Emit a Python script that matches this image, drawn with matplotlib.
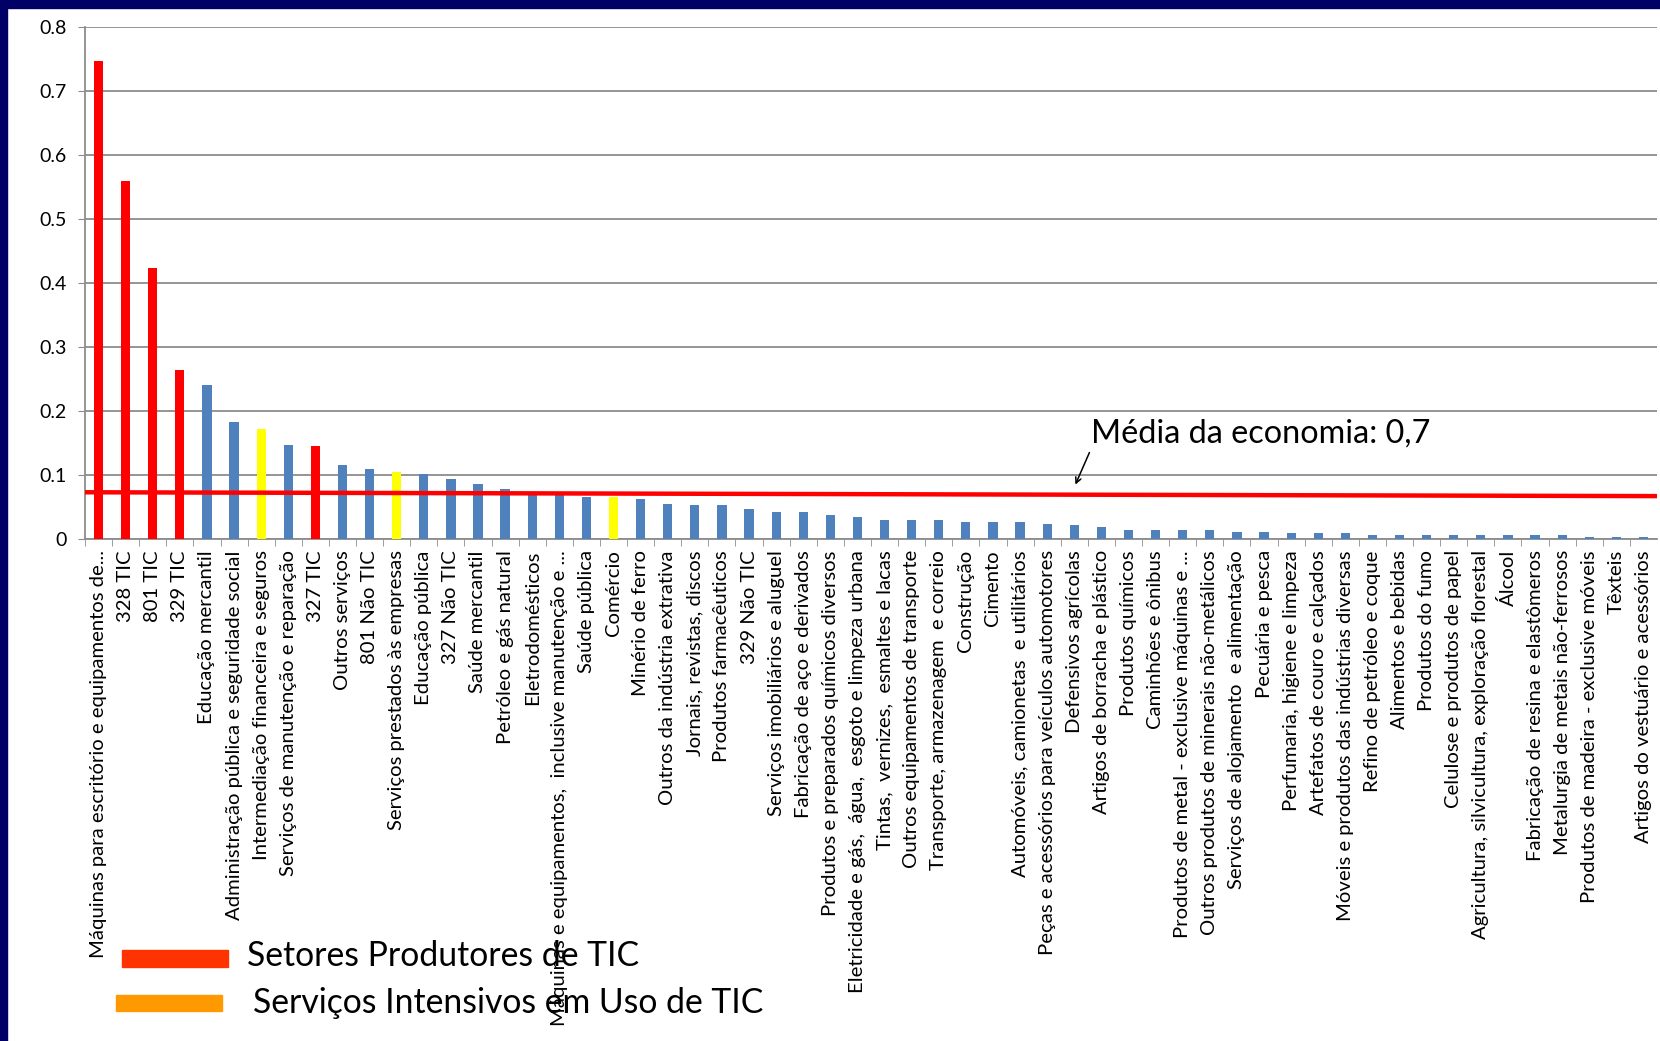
import matplotlib
matplotlib.use("Agg")
import matplotlib.pyplot as plt
from matplotlib.patches import Rectangle

plt.rcParams['font.family'] = ['Lato', 'DejaVu Sans']

setores = [
    "Máquinas para escritório e equipamentos de...",
    "328 TIC",
    "801 TIC",
    "329 TIC",
    "Educação mercantil",
    "Administração pública e seguridade social",
    "Intermediação financeira e seguros",
    "Serviços de manutenção e reparação",
    "327 TIC",
    "Outros serviços",
    "801 Não TIC",
    "Serviços prestados às empresas",
    "Educação pública",
    "327 Não TIC",
    "Saúde mercantil",
    "Petróleo e gás natural",
    "Eletrodomésticos",
    "Máquinas e equipamentos,  inclusive manutenção e ...",
    "Saúde pública",
    "Comércio",
    "Minério de ferro",
    "Outros da indústria extrativa",
    "Jornais, revistas, discos",
    "Produtos farmacêuticos",
    "329 Não TIC",
    "Serviços imobiliários e aluguel",
    "Fabricação de aço e derivados",
    "Produtos e preparados químicos diversos",
    "Eletricidade e gás,  água,  esgoto e limpeza urbana",
    "Tintas,  vernizes,  esmaltes e lacas",
    "Outros equipamentos de transporte",
    "Transporte, armazenagem  e correio",
    "Construção",
    "Cimento",
    "Automóveis, camionetas  e utilitários",
    "Peças e acessórios para veículos automotores",
    "Defensivos agrícolas",
    "Artigos de borracha e plástico",
    "Produtos químicos",
    "Caminhões e ônibus",
    "Produtos de metal - exclusive máquinas e ...",
    "Outros produtos de minerais não-metálicos",
    "Serviços de alojamento  e alimentação",
    "Pecuária e pesca",
    "Perfumaria, higiene e limpeza",
    "Artefatos de couro e calçados",
    "Móveis e produtos das indústrias diversas",
    "Refino de petróleo e coque",
    "Alimentos e bebidas",
    "Produtos do fumo",
    "Celulose e produtos de papel",
    "Agricultura, silvicultura, exploração florestal",
    "Álcool",
    "Fabricação de resina e elastômeros",
    "Metalurgia de metais não-ferrosos",
    "Produtos de madeira - exclusive móveis",
    "Têxteis",
    "Artigos do vestuário e acessórios",
]

valores = [
    0.746, 0.559, 0.423, 0.264, 0.240, 0.183, 0.172, 0.147, 0.145, 0.115,
    0.109, 0.104, 0.101, 0.094, 0.086, 0.078, 0.070, 0.068, 0.065, 0.065,
    0.062, 0.055, 0.053, 0.053, 0.047, 0.042, 0.042, 0.037, 0.035, 0.030,
    0.030, 0.030, 0.027, 0.027, 0.027, 0.024, 0.022, 0.019, 0.014, 0.014,
    0.014, 0.014, 0.011, 0.011, 0.009, 0.009, 0.009, 0.006, 0.006, 0.006,
    0.006, 0.006, 0.006, 0.006, 0.006, 0.003, 0.003, 0.003,
]

# P = produtor de TIC, S = servicos intensivos, O = outros
grupo = list("PPPPOOSOPOOSOOOOOOOSOOOOOOOOOOOOOOOOOOOOOOOOOOOOOOOOOOOOOO")

cores_grupo = {"P": "#FF0000", "S": "#FFFF00", "O": "#4F81BD"}
media_x = [-0.5, 57.5]
media_y = [0.073, 0.067]

y_ticks = [0, 0.1, 0.2, 0.3, 0.4, 0.5, 0.6, 0.7, 0.8]
y_labels = ["0", "0.1", "0.2", "0.3", "0.4", "0.5", "0.6", "0.7", "0.8"]

fig = plt.figure(figsize=(16.6, 10.41), dpi=100)
ax = fig.add_axes([0.0512, 0.4822, 0.947, 0.4923])

x = list(range(len(setores)))
cores = [cores_grupo[g] for g in grupo]
ax.bar(x, valores, width=0.34, color=cores, zorder=3)

ax.plot(media_x, media_y, color="#FF0000", lw=3.2, zorder=4)

ax.set_xlim(-0.5, len(setores) - 0.5)
ax.set_ylim(0, 0.8)
ax.set_yticks(y_ticks)
ax.set_yticklabels(y_labels, fontsize=14)
ax.yaxis.grid(True, color="#8C8C8C", lw=1.3, zorder=0)
ax.tick_params(axis="y", length=5, color="#8C8C8C", pad=8)

ax.set_xticks(x)
ax.set_xticklabels(setores, rotation=90, fontsize=14.6, va="top", ha="center")
ax.set_xticks([i + 0.5 for i in x[:-1]] + [-0.5], minor=True)
ax.tick_params(axis="x", which="major", length=0, pad=8)
ax.tick_params(axis="x", which="minor", length=5, color="#8C8C8C")

for s in ["top", "right"]:
    ax.spines[s].set_visible(False)
ax.spines["left"].set_color("#8C8C8C")
ax.spines["bottom"].set_color("#8C8C8C")
ax.spines["left"].set_linewidth(1.3)
ax.spines["bottom"].set_linewidth(1.3)

ax.text(36.6, 0.164, "Média da economia: 0,7", fontsize=23.3, ha="left", va="center")
ax.annotate("", xy=(36.0, 0.081), xytext=(36.6, 0.139),
            arrowprops=dict(arrowstyle="->", lw=1.1, color="black"))

# legenda manual
fig.patches.append(Rectangle((122 / 1660, 1 - 967 / 1041), 106 / 1660, 17 / 1041,
                             transform=fig.transFigure, color="#FF3300"))
fig.text(247 / 1660, 1 - 956 / 1041, "Setores Produtores de TIC", fontsize=24.3, va="center")
fig.patches.append(Rectangle((116 / 1660, 1 - 1011 / 1041), 106 / 1660, 16 / 1041,
                             transform=fig.transFigure, color="#FF9900"))
fig.text(253 / 1660, 1 - 1003 / 1041, "Serviços Intensivos em Uso de TIC", fontsize=24.3, va="center")

# moldura azul escura
fig.patches.append(Rectangle((0, 1 - 8 / 1041), 1, 8 / 1041, transform=fig.transFigure,
                             color="#000066", zorder=10))
fig.patches.append(Rectangle((0, 0), 7 / 1660, 1, transform=fig.transFigure,
                             color="#000066", zorder=10))

fig.savefig("out.png", dpi=100)
